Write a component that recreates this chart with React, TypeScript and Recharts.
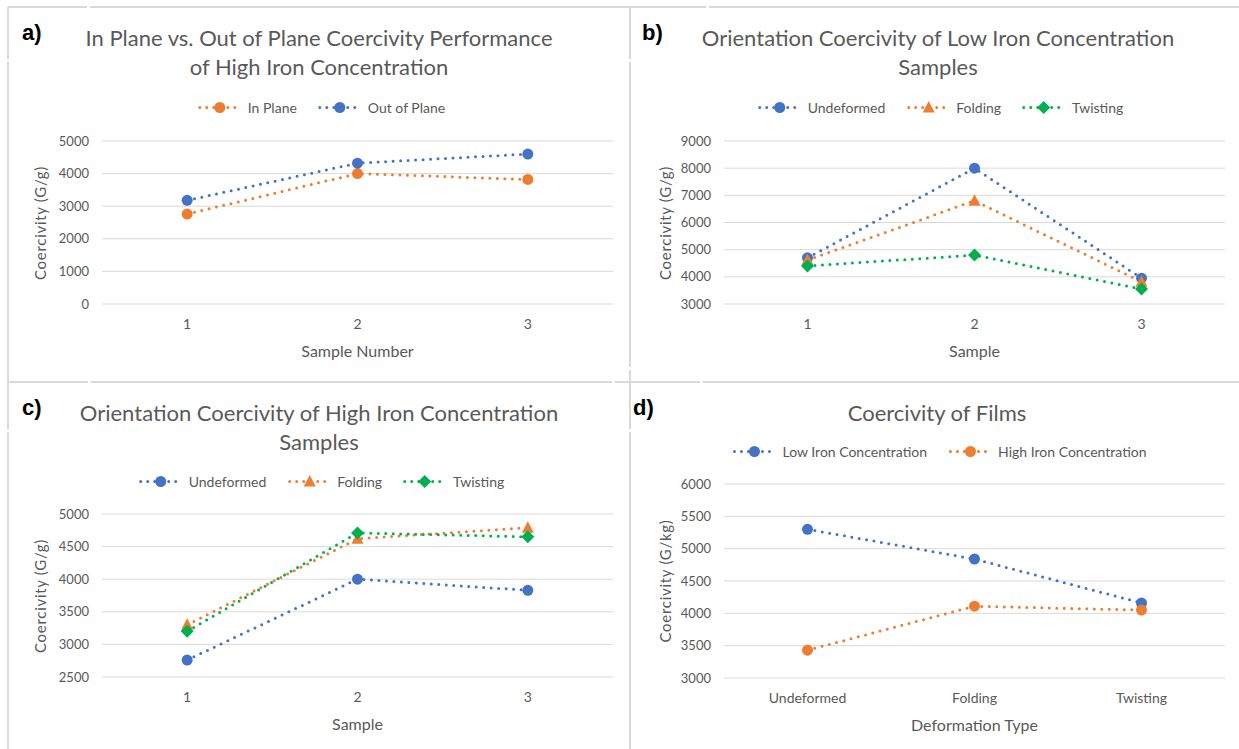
import React from 'react';
import { LineChart, Line, XAxis, YAxis, CartesianGrid } from 'recharts';

// panel a
const sampleNumbers = ['1', '2', '3'];
const inPlane = [2760, 4000, 3820];
const outOfPlane = [3180, 4320, 4600];
const ticksA = [0, 1000, 2000, 3000, 4000, 5000];

// panel b
const lowUndeformed = [4700, 8000, 3950];
const lowFolding = [4620, 6800, 3820];
const lowTwisting = [4400, 4800, 3550];
const ticksB = [3000, 4000, 5000, 6000, 7000, 8000, 9000];

// panel c
const highUndeformed = [2760, 4000, 3830];
const highFolding = [3300, 4620, 4790];
const highTwisting = [3200, 4710, 4650];
const ticksC = [2500, 3000, 3500, 4000, 4500, 5000];

// panel d
const deformationTypes = ['Undeformed', 'Folding', 'Twisting'];
const lowIron = [5300, 4840, 4160];
const highIron = [3430, 4110, 4050];
const ticksD = [3000, 3500, 4000, 4500, 5000, 5500, 6000];

const BLUE = '#4472C4';
const ORANGE = '#ED7D31';
const GREEN = '#00B050';
const TEXT = '#595959';
const FONT = 'Lato, "Open Sans", sans-serif';

type Shape = 'circle' | 'triangle' | 'diamond';

interface Series {
  name: string;
  values: number[];
  color: string;
  shape: Shape;
}

const Marker = ({ cx, cy, color, shape }: { cx: number; cy: number; color: string; shape: Shape }) => {
  if (shape === 'triangle') {
    return <polygon points={`${cx},${cy - 6.5} ${cx + 6},${cy + 5} ${cx - 6},${cy + 5}`} fill={color} />;
  }
  if (shape === 'diamond') {
    return <polygon points={`${cx},${cy - 6.5} ${cx + 6.5},${cy} ${cx},${cy + 6.5} ${cx - 6.5},${cy}`} fill={color} />;
  }
  return <circle cx={cx} cy={cy} r={5.5} fill={color} />;
};

const LegendRow = ({ series, x, y }: { series: Series[]; x: number; y: number }) => (
  <div
    style={{
      position: 'absolute',
      left: x,
      top: y,
      transform: 'translate(-50%, -50%)',
      display: 'flex',
      alignItems: 'center',
      whiteSpace: 'nowrap',
      fontFamily: FONT,
      fontSize: 14,
      color: TEXT,
    }}
  >
    {series.map((s, i) => (
      <div key={s.name} style={{ display: 'flex', alignItems: 'center', marginLeft: i === 0 ? 0 : 20 }}>
        <svg width={46} height={14}>
          <line x1={3} y1={7} x2={44} y2={7} stroke={s.color} strokeWidth={3} strokeDasharray="0 7" strokeLinecap="round" />
          <Marker cx={23} cy={7} color={s.color} shape={s.shape} />
        </svg>
        <span style={{ marginLeft: 5 }}>{s.name}</span>
      </div>
    ))}
  </div>
);

interface PanelProps {
  letter: string;
  letterX: number;
  left: number;
  top: number;
  width: number;
  height: number;
  plot: { x1: number; x2: number; y1: number; y2: number };
  title: string[];
  titleX: number;
  titleY: number;
  legendY: number;
  categories: string[];
  series: Series[];
  ticks: number[];
  yTitle: string;
  yTitleX: number;
  xTitle: string;
}

const Panel = (p: PanelProps) => {
  const data = p.categories.map((c, i) => {
    const row: Record<string, string | number> = { name: c };
    p.series.forEach((s, k) => {
      row[`s${k}`] = s.values[i];
    });
    return row;
  });
  const plotW = p.plot.x2 - p.plot.x1;
  const pad = plotW / (p.categories.length * 2);
  const margin = {
    top: p.plot.y1,
    left: p.plot.x1 - 60,
    right: p.width - p.plot.x2,
    bottom: p.height - p.plot.y2 - 30,
  };
  const centerX = (p.plot.x1 + p.plot.x2) / 2;
  return (
    <div style={{ position: 'absolute', left: p.left, top: p.top, width: p.width, height: p.height }}>
      <LineChart width={p.width} height={p.height} data={data} margin={margin}>
        <CartesianGrid vertical={false} stroke="#D9D9D9" strokeWidth={1} />
        <XAxis
          dataKey="name"
          height={30}
          axisLine={false}
          tickLine={false}
          tickSize={0}
          tickMargin={15}
          padding={{ left: pad, right: pad }}
          tick={{ fill: TEXT, fontSize: 14, fontFamily: FONT }}
        />
        <YAxis
          type="number"
          width={60}
          domain={[p.ticks[0], p.ticks[p.ticks.length - 1]]}
          ticks={p.ticks}
          interval={0}
          axisLine={false}
          tickLine={false}
          tickSize={0}
          tickMargin={13}
          tick={{ fill: TEXT, fontSize: 13, fontFamily: FONT }}
        />
        {p.series.map((s, k) => (
          <Line
            key={s.name}
            type="linear"
            dataKey={`s${k}`}
            name={s.name}
            stroke={s.color}
            strokeWidth={3}
            strokeDasharray="0 7.5"
            strokeLinecap="round"
            isAnimationActive={false}
            dot={(d: any) => <Marker key={`${s.name}-${d.index}`} cx={d.cx} cy={d.cy} color={s.color} shape={s.shape} />}
            activeDot={false}
          />
        ))}
      </LineChart>
      <div
        style={{
          position: 'absolute',
          left: p.letterX,
          top: p.titleY - 17,
          fontFamily: 'Arial, sans-serif',
          fontWeight: 'bold',
          fontSize: 22,
          color: '#000',
        }}
      >
        {p.letter})
      </div>
      {p.title.map((line, i) => (
        <div
          key={line}
          style={{
            position: 'absolute',
            left: p.titleX,
            top: p.titleY + i * 29,
            transform: 'translate(-50%, -50%)',
            whiteSpace: 'nowrap',
            fontFamily: FONT,
            fontSize: 22,
            color: TEXT,
          }}
        >
          {line}
        </div>
      ))}
      <LegendRow series={p.series} x={p.titleX + 2} y={p.legendY} />
      <div
        style={{
          position: 'absolute',
          left: p.yTitleX,
          top: (p.plot.y1 + p.plot.y2) / 2,
          transform: 'translate(-50%, -50%) rotate(-90deg)',
          whiteSpace: 'nowrap',
          fontFamily: FONT,
          fontSize: 15,
          letterSpacing: 0.7,
          color: TEXT,
        }}
      >
        {p.yTitle}
      </div>
      <div
        style={{
          position: 'absolute',
          left: centerX,
          top: p.plot.y2 + 46,
          transform: 'translate(-50%, -50%)',
          whiteSpace: 'nowrap',
          fontFamily: FONT,
          fontSize: 16,
          color: TEXT,
        }}
      >
        {p.xTitle}
      </div>
    </div>
  );
};

const Frame = () => (
  <svg width={1239} height={749} style={{ position: 'absolute', left: 0, top: 0 }}>
    <g stroke="#D9D9D9" strokeWidth={2}>
      <line x1={8} y1={7} x2={87} y2={7} />
      <line x1={90} y1={7} x2={706} y2={7} />
      <line x1={709} y1={7} x2={1239} y2={7} />
      <line x1={8} y1={7} x2={8} y2={59} />
      <line x1={8} y1={62} x2={8} y2={429} />
      <line x1={8} y1={432} x2={8} y2={749} />
      <line x1={8} y1={382} x2={88} y2={382} />
      <line x1={91} y1={382} x2={612} y2={382} />
      <line x1={615} y1={382} x2={700} y2={382} />
      <line x1={703} y1={382} x2={1239} y2={382} />
      <line x1={630} y1={7} x2={630} y2={59} />
      <line x1={630} y1={62} x2={630} y2={367} />
      <line x1={630} y1={370} x2={630} y2={429} />
      <line x1={630} y1={432} x2={630} y2={749} />
    </g>
  </svg>
);

export default function App() {
  return (
    <div style={{ position: 'absolute', left: 0, top: 0, width: 1239, height: 749, background: '#fff', overflow: 'hidden' }}>
      <Frame />
      <Panel
        letter="a"
        letterX={22}
        left={0}
        top={0}
        width={620}
        height={380}
        plot={{ x1: 102, x2: 613, y1: 141, y2: 304 }}
        title={['In Plane vs. Out of Plane Coercivity Performance', 'of High Iron Concentration']}
        titleX={319}
        titleY={37}
        legendY={107}
        categories={sampleNumbers}
        series={[
          { name: 'In Plane', values: inPlane, color: ORANGE, shape: 'circle' },
          { name: 'Out of Plane', values: outOfPlane, color: BLUE, shape: 'circle' },
        ]}
        ticks={ticksA}
        yTitle="Coercivity (G/g)"
        yTitleX={40}
        xTitle="Sample Number"
      />
      <Panel
        letter="b"
        letterX={22}
        left={620}
        top={0}
        width={619}
        height={380}
        plot={{ x1: 104, x2: 605, y1: 141, y2: 304 }}
        title={['Orientation Coercivity of Low Iron Concentration', 'Samples']}
        titleX={318}
        titleY={37}
        legendY={107}
        categories={sampleNumbers}
        series={[
          { name: 'Undeformed', values: lowUndeformed, color: BLUE, shape: 'circle' },
          { name: 'Folding', values: lowFolding, color: ORANGE, shape: 'triangle' },
          { name: 'Twisting', values: lowTwisting, color: GREEN, shape: 'diamond' },
        ]}
        ticks={ticksB}
        yTitle="Coercivity (G/g)"
        yTitleX={45}
        xTitle="Sample"
      />
      <Panel
        letter="c"
        letterX={22}
        left={0}
        top={380}
        width={620}
        height={369}
        plot={{ x1: 102, x2: 613, y1: 134, y2: 297 }}
        title={['Orientation Coercivity of High Iron Concentration', 'Samples']}
        titleX={319}
        titleY={32}
        legendY={101}
        categories={sampleNumbers}
        series={[
          { name: 'Undeformed', values: highUndeformed, color: BLUE, shape: 'circle' },
          { name: 'Folding', values: highFolding, color: ORANGE, shape: 'triangle' },
          { name: 'Twisting', values: highTwisting, color: GREEN, shape: 'diamond' },
        ]}
        ticks={ticksC}
        yTitle="Coercivity (G/g)"
        yTitleX={40}
        xTitle="Sample"
      />
      <Panel
        letter="d"
        letterX={13}
        left={620}
        top={380}
        width={619}
        height={369}
        plot={{ x1: 104, x2: 605, y1: 104, y2: 298 }}
        title={['Coercivity of Films']}
        titleX={317}
        titleY={32}
        legendY={71}
        categories={deformationTypes}
        series={[
          { name: 'Low Iron Concentration', values: lowIron, color: BLUE, shape: 'circle' },
          { name: 'High Iron Concentration', values: highIron, color: ORANGE, shape: 'circle' },
        ]}
        ticks={ticksD}
        yTitle="Coercivity (G/kg)"
        yTitleX={45}
        xTitle="Deformation Type"
      />
    </div>
  );
}
